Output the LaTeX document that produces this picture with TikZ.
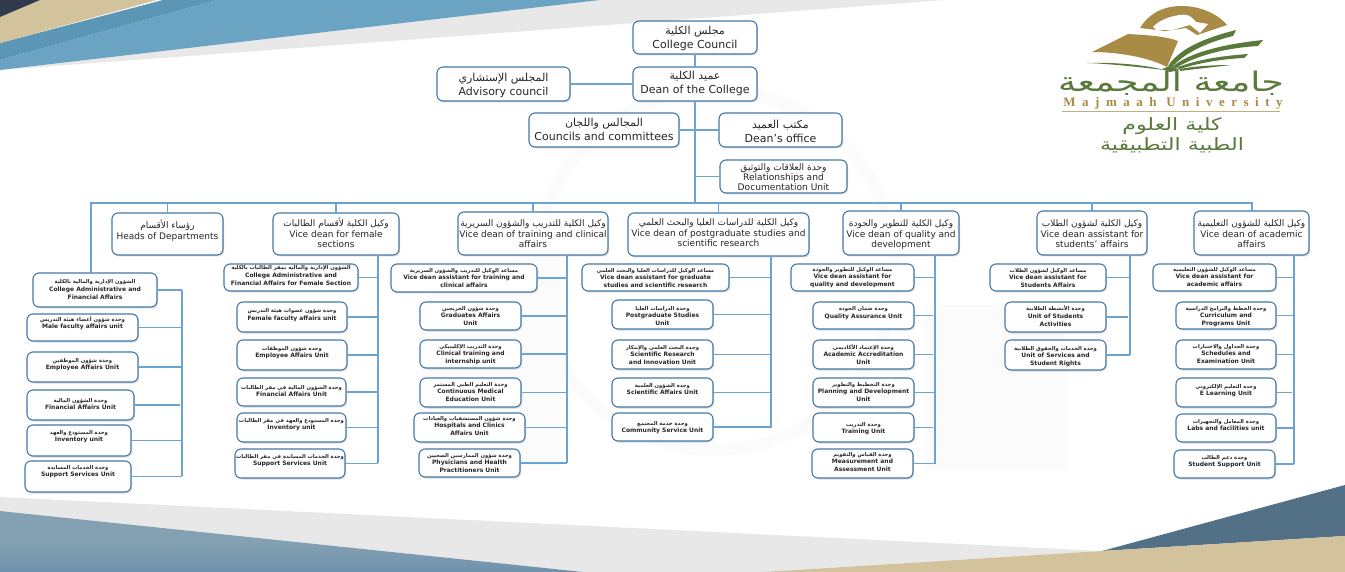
\documentclass[tikz,border=0pt]{standalone}
\usepackage{fontspec}
\usetikzlibrary{shadows}
\setmainfont{DejaVu Sans}
\newfontfamily\arfontA[Script=Arabic]{DejaVu Sans}
\newfontfamily\arfontB[Script=Arabic,Scale=0.88]{DejaVu Sans}
\newfontfamily\logoar[Script=Arabic,FakeStretch=1.35]{DejaVu Sans}
\newfontfamily\logoarB[Script=Arabic,FakeStretch=1.3]{DejaVu Sans}
\newfontfamily\majfont[LetterSpace=50]{Liberation Serif}
\TeXXeTstate=1
\definecolor{boxline}{HTML}{4579A8}
\definecolor{linkblue}{HTML}{6BA3D3}
\definecolor{logogreen}{HTML}{5A7A3C}
\definecolor{logogold}{HTML}{A88B45}
\definecolor{bgdark}{HTML}{2F3A4A}
\definecolor{bgbeige}{HTML}{D3C39C}
\definecolor{bgblueA}{HTML}{5B96B7}
\definecolor{bgblueB}{HTML}{6BA3C2}
\definecolor{bggray}{HTML}{E8E8E8}
\definecolor{bgslate}{HTML}{84A1B4}
\definecolor{bgslateB}{HTML}{6F92AC}
\definecolor{bgteal}{HTML}{527186}
\definecolor{wmark}{HTML}{FBFBFB}
\definecolor{txt}{HTML}{262626}
\tikzset{
  orgbox/.style={draw=boxline,line width=1.1pt,fill=white,rounded corners=6pt,inner sep=0pt,outer sep=0pt,text=txt,
    drop shadow={opacity=.28,shadow xshift=1.2pt,shadow yshift=-1.5pt}},
  link/.style={draw=linkblue,line width=1.6pt},
  shortlink/.style={link,shorten >=2pt}
}
\newcommand\curar{\arfontA}
\newcommand\artxt[1]{\mbox{\curar\beginR #1\endR}}
\newcommand\bxnode[8]{%
  \pgfmathsetlengthmacro\bxw{(#5)-(#3)}%
  \pgfmathsetlengthmacro\bxh{(#6)-(#4)}%
  \node[orgbox,anchor=north west] (#2) at (#3,#4)
    {\parbox[c][\bxh][t]{\bxw}{\centering\lineskiplimit=-100pt #1\rule{0pt}{#7pt}#8}};%
}
\newcommand\unitfont{\fontsize{6}{7.7}\selectfont\bfseries\let\curar\arfontB}
\newcommand\midfont{\fontsize{9}{10.3}\selectfont}
\newcommand\topfont{\fontsize{11}{13.2}\selectfont}
\newcommand\relfont{\fontsize{9.1}{10}\selectfont}
\newcommand\ub[7]{\bxnode{\unitfont}{#1}{#2}{#3}{#4}{#5}{#6}{#7}}
\newcommand\mb[7]{\bxnode{\midfont}{#1}{#2}{#3}{#4}{#5}{#6}{#7}}
\newcommand\tb[7]{\bxnode{\topfont}{#1}{#2}{#3}{#4}{#5}{#6}{#7}}
\begin{document}
\begin{tikzpicture}[x=1pt,y=-1pt]
\useasboundingbox (0,0) rectangle (1345,572);
\fill[white] (0,0) rectangle (1345,572);
% faint watermark
\draw[wmark,line width=12pt] (715,270) circle (180);
\fill[wmark] (925,305) -- (1067,305) -- (1067,470) -- (925,470) -- cycle;
\fill[wmark] (420,300) -- (560,240) -- (560,470) -- (420,470) -- cycle;
% top-left background bands
\fill[bggray] (0,70) -- (600,0) -- (945,0) -- cycle;
\fill[bgblueB] (0,70) -- (0,60) -- (217,0) -- (600,0) -- cycle;
\fill[bgblueA] (0,60) -- (0,43) -- (163,0) -- (217,0) -- cycle;
\fill[bgbeige] (0,43) -- (0,17) -- (40,0) -- (157,0) -- cycle;
\fill[bgdark] (0,0) -- (40,0) -- (0,17) -- cycle;
% bottom background bands
\fill[bggray] (0,497) -- (1102,551) -- (763,572) -- (583,572) -- (0,511) -- cycle;
\shade[top color=bgslate,bottom color=bgslateB,middle color=bgslate] (0,511) -- (583,572) -- (0,572) -- cycle;
\fill[bgteal] (1102,551) -- (1345,485) -- (1345,536) -- cycle;
\fill[bgbeige] (763,572) -- (1102,551) -- (1345,536) -- (1345,572) -- cycle;
% logo
\fill[logogold] (1140,28) .. controls (1150,12) and (1165,6) .. (1182,6) .. controls (1200,6) and (1218,14) .. (1227,25) -- (1197,35) -- (1186,28) -- (1165,31) -- cycle;
\fill[white] (1153,27) .. controls (1158,21) and (1170,16) .. (1180,15) .. controls (1190,13) and (1194,20) .. (1196,22) -- (1208,24) -- (1200,33) -- (1190,25) -- (1172,30) -- (1156,30) -- cycle;
\fill[logogold] (1092,52) -- (1128,34) .. controls (1145,35) and (1165,36) .. (1178,41) -- (1167,67) .. controls (1150,58) and (1120,52) .. (1092,52) -- cycle;
\fill[logogreen] (1168,66) .. controls (1180,48) and (1205,38) .. (1236,30) -- (1233,36) .. controls (1205,43) and (1185,53) .. (1172,67) -- cycle;
\fill[logogreen] (1172,67) .. controls (1190,52) and (1225,44) .. (1263,40) -- (1258,46) .. controls (1225,48) and (1195,56) .. (1176,68) -- cycle;
\fill[logogreen] (1176,68) .. controls (1195,60) and (1220,56) .. (1248,54) -- (1244,58) .. controls (1220,59) and (1195,64) .. (1180,69) -- cycle;
\fill[logogreen] (1180,69) .. controls (1195,66) and (1215,65) .. (1231,65) .. controls (1215,67) and (1195,69) .. (1180,71) -- cycle;
\fill[logogreen] (1087,63) .. controls (1115,62) and (1145,65) .. (1165,70) .. controls (1145,68) and (1115,64) .. (1087,63) -- cycle;
\fill[logogreen] (1162,69) -- (1170,66) -- (1180,70) -- (1170,72) -- cycle;
\node[text=logogreen,inner sep=0pt] (logoname) at (1171,83) {\fontsize{27}{27}\logoar\beginR جامعة المجمعة\endR};
\node[text=logogold,inner sep=0pt] (logolatin) at (1173,103) {\fontsize{13}{13}\majfont\bfseries Majmaah University};
\draw[draw=logogold!70,line width=.6pt] (1062,111) -- (1280,111);
\node[text=logogreen,inner sep=0pt] (logocollege) at (1172,126) {\fontsize{17}{17}\logoarB\beginR كلية العلوم\endR};
\node[text=logogreen,inner sep=0pt] (logomedical) at (1172,145) {\fontsize{17}{17}\logoarB\beginR الطبية التطبيقية\endR};
% top boxes
\tb{council}{633}{21}{757}{54}{14}{\artxt{مجلس الكلية}\\College Council}
\tb{dean}{633}{67}{757}{101}{13}{\artxt{عميد الكلية}\\Dean of the College}
\tb{advisory}{437}{67}{570}{101}{15}{\artxt{المجلس الإستشاري}\\Advisory council}
\tb{councils}{529}{113}{679}{147}{14}{\artxt{المجالس واللجان}\\Councils and committees}
\tb{office}{719}{113}{842}{147}{16}{\artxt{مكتب العميد}\\Dean's office}
\bxnode{\relfont}{rel}{720}{160}{847}{193}{11}{\artxt{وحدة العلاقات والتوثيق}\\Relationships and\\Documentation Unit}
% level 2
\mb{heads}{112}{213}{223}{255}{16}{\artxt{رؤساء الأقسام}\\Heads of Departments}
\mb{female}{273}{213}{399}{255}{14}{\artxt{وكيل الكلية لأقسام الطالبات}\\Vice dean for female\\sections}
\mb{training}{458}{212}{608}{255}{15}{\artxt{وكيل الكلية للتدريب والشؤون السريرية}\\Vice dean of training and clinical\\affairs}
\mb{postgrad}{628}{213}{809}{256}{13}{\artxt{وكيل الكلية للدراسات العليا والبحث العلمي}\\Vice dean of postgraduate studies and\\scientific research}
\mb{quality}{843}{211}{959}{255}{16}{\artxt{وكيل الكلية للتطوير والجودة}\\Vice dean of quality and\\development}
\mb{students}{1037}{211}{1147}{255}{16}{\artxt{وكيل الكلية لشؤون الطلاب}\\Vice dean assistant for\\students' affairs}
\mb{academic}{1194}{211}{1309}{255}{16}{\artxt{وكيل الكلية للشؤون التعليمية}\\Vice dean of academic\\affairs}
% heads column
\ub{c1}{33}{273}{157}{307}{11}{\artxt{الشؤون الإدارية والمالية بالكلية}\\College Administrative and\\Financial Affairs}
\ub{c2}{27}{314}{138}{341}{7}{\artxt{وحدة شؤون أعضاء هيئة التدريس}\\Male faculty affairs unit}
\ub{c3}{27}{352}{138}{382}{10}{\artxt{وحدة شؤون الموظفين}\\Employee Affairs Unit}
\ub{c4}{27}{390}{134}{420}{12}{\artxt{وحدة الشؤون المالية}\\Financial Affairs Unit}
\ub{c5}{27}{425}{131}{456}{9}{\artxt{وحدة المستودع والعهد}\\Inventory unit}
\ub{c6}{25}{461}{131}{492}{8}{\artxt{وحدة الخدمات المساندة}\\Support Services Unit}
% female column
\ub{f1}{224}{264}{358}{291}{6}{\artxt{الشؤون الإدارية والمالية بمقر الطالبات بالكلية}\\College Administrative and\\Financial Affairs  for Female Section}
\ub{f2}{237}{302}{347}{332}{11}{\artxt{وحدة شؤون عضوات هيئة التدريس}\\Female faculty affairs unit}
\ub{f3}{237}{340}{347}{370}{10}{\artxt{وحدة شؤون الموظفات}\\Employee Affairs Unit}
\ub{f4}{237}{378}{346}{406}{11}{\artxt{وحدة الشؤون المالية في مقر الطالبات}\\Financial Affairs Unit}
\ub{f5}{237}{413}{346}{442}{9}{\artxt{وحدة المستودع والعهد في مقر الطالبات}\\Inventory unit}
\ub{f6}{235}{449}{345}{478}{9}{\artxt{وحدة الخدمات المساندة في مقر الطالبات}\\Support Services Unit}
% training column
\ub{t1}{391}{264}{537}{292}{8}{\artxt{مساعد الوكيل للتدريب والشؤون السريرية}\\Vice dean assistant for training and\\clinical affairs}
\ub{t2}{420}{302}{521}{330}{8}{\artxt{وحدة شؤون الخريجين}\\Graduates Affairs\\Unit}
\ub{t3}{420}{340}{521}{368}{8}{\artxt{وحدة التدريب الإكلينيكي}\\Clinical training and\\internship unit}
\ub{t4}{420}{378}{521}{407}{8}{\artxt{وحدة التعليم الطبي المستمر}\\Continuous Medical\\Education Unit}
\ub{t5}{414}{413}{525}{442}{7}{\artxt{وحدة شؤون المستشفيات والعيادات}\\Hospitals and Clinics\\Affairs Unit}
\ub{t6}{419}{449}{520}{477}{8}{\artxt{وحدة شؤون الممارسين الصحيين}\\Physicians and Health\\Practitioners Unit}
% postgraduate column
\ub{p1}{582}{264}{729}{291}{8}{\artxt{مساعد الوكيل للدراسات العليا والبحث العلمي}\\Vice dean assistant for graduate\\studies and scientific research}
\ub{p2}{612}{300}{713}{329}{10}{\artxt{وحدة الدراسات العليا}\\Postgraduate Studies\\Unit}
\ub{p3}{612}{340}{713}{369}{9}{\artxt{وحدة البحث العلمي والإبتكار}\\Scientific Research\\and Innovation Unit}
\ub{p4}{612}{378}{713}{407}{9}{\artxt{وحدة الشؤون العلمية}\\Scientific Affairs Unit}
\ub{p5}{612}{413}{713}{441}{12}{\artxt{وحدة خدمة المجتمع}\\Community Service Unit}
% quality column
\ub{q1}{791}{264}{914}{291}{7}{\artxt{مساعد الوكيل للتطوير والجودة}\\Vice dean assistant for\\quality and development}
\ub{q2}{813}{302}{914}{329}{9}{\artxt{وحدة ضمان الجودة}\\Quality Assurance Unit}
\ub{q3}{813}{340}{914}{369}{9}{\artxt{وحدة الإعتماد الأكاديمي}\\Academic Accreditation\\Unit}
\ub{q4}{813}{378}{914}{407}{8}{\artxt{وحدة التخطيط والتطوير}\\Planning and Development\\Unit}
\ub{q5}{813}{413}{914}{442}{13}{\artxt{وحدة التدريب}\\Training Unit}
\ub{q6}{812}{449}{913}{478}{7}{\artxt{وحدة القياس والتقويم}\\Measurement and\\Assessment Unit}
% students column
\ub{s1}{990}{264}{1106}{291}{8}{\artxt{مساعد الوكيل لشؤون الطلاب}\\Vice dean assistant for\\Students Affairs}
\ub{s2}{1005}{302}{1106}{332}{9}{\artxt{وحدة الأنشطة الطلابية}\\Unit of Students\\Activities}
\ub{s3}{1005}{340}{1106}{370}{10}{\artxt{وحدة الخدمات والحقوق الطلابية}\\Unit of Services and\\Student Rights}
% academic column
\ub{a1}{1153}{264}{1276}{291}{7}{\artxt{مساعد الوكيل للشؤون التعليمية}\\Vice dean assistant for\\academic affairs}
\ub{a2}{1176}{302}{1276}{329}{8}{\artxt{وحدة الخطط والبرامج الدراسية}\\Curriculum and\\Programs Unit}
\ub{a3}{1176}{340}{1276}{369}{8}{\artxt{وحدة الجداول والاختبارات}\\Schedules and\\Examination Unit}
\ub{a4}{1176}{378}{1276}{407}{10}{\artxt{وحدة التعليم الإلكتروني}\\E Learning Unit}
\ub{a5}{1176}{414}{1276}{442}{9}{\artxt{وحدة المعامل والتجهيزات}\\Labs and facilities unit}
\ub{a6}{1174}{450}{1275}{478}{9}{\artxt{وحدة دعم الطالب}\\Student Support Unit}
% trunk coordinates
\coordinate (busL) at (91,203);
\coordinate (busM) at (695,203);
\coordinate (busR) at (1252,203);
\coordinate (spC) at (182,476);
\coordinate (spF) at (378,463);
\coordinate (spT) at (567,463);
\coordinate (spP) at (771,428);
\coordinate (spQ) at (935,464);
\coordinate (spS) at (1130,355);
\coordinate (spA) at (1294,464);
% trunk
\draw[link] (council.south) -- (dean.north);
\draw[link] (dean.south) -- (busM);
\draw[link] (advisory.east) -- (dean.west);
\draw[link] (councils.east) -- (office.west);
\draw[link] (rel.west) -- (rel.west -| busM);
\draw[link] (c1.north -| busL) -- (busL) -- (busR) -- (academic.north -| busR);
\foreach \n in {heads,female,training,postgrad,quality,students}
  \draw[link] (\n.north) -- (\n.north |- busL);
% column spines
\draw[link] (c1.east -| spC) -- (spC);
\draw[link] (female.south -| spF) -- (spF);
\draw[link] (training.south -| spT) -- (spT);
\draw[link] (postgrad.south -| spP) -- (spP);
\draw[link] (quality.south -| spQ) -- (spQ);
\draw[link] (students.south -| spS) -- (spS);
\draw[link] (academic.south -| spA) -- (spA);
% branches
\foreach \n in {c1,c2,c3,c5,c6} \draw[link] (\n.east) -- (\n.east -| spC);
\draw[shortlink] (c4.east) -- (c4.east -| spC);
\foreach \n in {f1,f2,f3,f4,f5,f6} \draw[link] (\n.east) -- (\n.east -| spF);
\foreach \n in {t1,t2,t3,t4,t5,t6} \draw[link] (\n.east) -- (\n.east -| spT);
\foreach \n in {p1,p2,p3,p4,p5} \draw[link] (\n.east) -- (\n.east -| spP);
\foreach \n in {q1,q4,q6} \draw[link] (\n.east) -- (\n.east -| spQ);
\foreach \n in {q2,q3,q5} \draw[shortlink] (\n.east) -- (\n.east -| spQ);
\foreach \n in {s1,s3} \draw[link] (\n.east) -- (\n.east -| spS);
\draw[shortlink] (s2.east) -- (s2.east -| spS);
\foreach \n in {a1,a2,a3,a5,a6} \draw[link] (\n.east) -- (\n.east -| spA);
\draw[shortlink] (a4.east) -- (a4.east -| spA);
\end{tikzpicture}
\end{document}
